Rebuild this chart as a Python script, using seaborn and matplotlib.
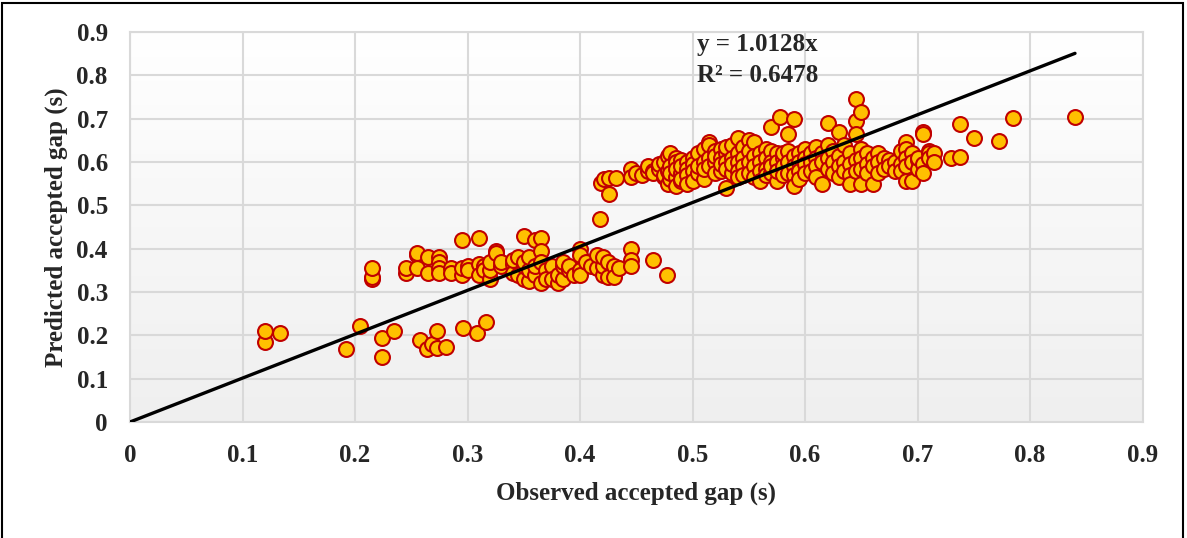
"""
Observed vs predicted accepted gap - scatter with trendline through origin
"""

import numpy as np
import pandas as pd
import matplotlib
matplotlib.use("Agg")
import matplotlib.pyplot as plt
from matplotlib.patches import Rectangle
from matplotlib.colors import LinearSegmentedColormap
import seaborn as sns

# observed gap (s) columns, and predicted gaps (s) read at each column
X_COLS = [
    0.12, 0.133, 0.192, 0.204, 0.224, 0.235, 0.258, 0.264, 0.268, 0.273, 0.281, 0.296, 0.308, 0.316,
    0.215, 0.245, 0.255, 0.265, 0.275, 0.285, 0.295, 0.30, 0.31, 0.315, 0.32, 0.325, 0.33,
    0.34, 0.345, 0.35, 0.355, 0.36, 0.365, 0.37, 0.375, 0.38, 0.385, 0.39, 0.395, 0.40,
    0.405, 0.41, 0.415, 0.42, 0.425, 0.43, 0.435, 0.445, 0.465, 0.477,
    0.418, 0.419, 0.421, 0.426, 0.432,
    0.445, 0.45, 0.455, 0.46, 0.465, 0.47, 0.475, 0.478, 0.48, 0.485, 0.49, 0.495, 0.50,
    0.505, 0.51, 0.515, 0.52, 0.525, 0.53, 0.535, 0.54, 0.545, 0.55, 0.555, 0.56, 0.565,
    0.57, 0.575, 0.578, 0.58, 0.585, 0.59, 0.595, 0.60, 0.605, 0.61, 0.615, 0.62, 0.625,
    0.63, 0.635, 0.64, 0.645, 0.65, 0.655, 0.66, 0.665, 0.67, 0.675, 0.68, 0.685, 0.69,
    0.695, 0.70, 0.705, 0.71, 0.715, 0.73, 0.738, 0.75, 0.772, 0.785, 0.84,
]
Y_BY_COL = [
    [0.185, 0.21], [0.205], [0.168], [0.222], [0.15, 0.193], [0.21], [0.19], [0.168], [0.18],
    [0.21, 0.171], [0.173], [0.217], [0.205], [0.231],
    [0.33, 0.335, 0.355], [0.345, 0.355], [0.385, 0.39, 0.355], [0.38, 0.345],
    [0.38, 0.37, 0.355, 0.345], [0.355, 0.345], [0.42, 0.34, 0.355], [0.36, 0.35],
    [0.425, 0.365, 0.34], [0.36, 0.35], [0.33, 0.35, 0.37], [0.395, 0.39], [0.36, 0.37],
    [0.365, 0.345, 0.375], [0.38, 0.34], [0.43, 0.33, 0.36, 0.37], [0.325, 0.35, 0.38],
    [0.42, 0.34, 0.36], [0.425, 0.395, 0.32, 0.37], [0.35, 0.33], [0.36, 0.33], [0.32, 0.34],
    [0.33, 0.36, 0.37], [0.35, 0.36], [0.34], [0.40, 0.385, 0.35, 0.34],
    [0.37], [0.36], [0.355, 0.385], [0.34, 0.36, 0.38], [0.37, 0.335], [0.36, 0.335], [0.355],
    [0.40, 0.375, 0.36], [0.375], [0.34],
    [0.468], [0.551], [0.56], [0.526, 0.563], [0.563],
    [0.585, 0.565], [0.575], [0.57], [0.58, 0.59], [0.58, 0.575], [0.59, 0.585, 0.595],
    [0.60, 0.565, 0.57], [0.55, 0.615, 0.58], [0.62, 0.56, 0.59, 0.575],
    [0.61, 0.60, 0.565, 0.585, 0.545], [0.605, 0.575, 0.555, 0.59, 0.56],
    [0.60, 0.585, 0.57, 0.55], [0.61, 0.595, 0.58, 0.555],
    [0.62, 0.575, 0.59], [0.63, 0.60, 0.56, 0.585], [0.645, 0.64, 0.61, 0.59],
    [0.625, 0.60, 0.575, 0.615], [0.63, 0.61, 0.58, 0.595], [0.62, 0.60, 0.54, 0.585, 0.635],
    [0.64, 0.61, 0.575, 0.595], [0.655, 0.62, 0.60, 0.58, 0.565], [0.635, 0.61, 0.59, 0.57],
    [0.65, 0.625, 0.60, 0.575], [0.645, 0.615, 0.59, 0.565], [0.62, 0.60, 0.58, 0.555],
    [0.63, 0.61, 0.585, 0.57],
    [0.68, 0.625, 0.60, 0.575, 0.59], [0.62, 0.60, 0.555, 0.58], [0.705], [0.61, 0.59, 0.57, 0.62],
    [0.665, 0.625, 0.60, 0.575], [0.70, 0.615, 0.59, 0.57, 0.545], [0.62, 0.60, 0.58, 0.56],
    [0.63, 0.61, 0.595, 0.575], [0.62, 0.60, 0.58], [0.635, 0.61, 0.59, 0.565],
    [0.62, 0.60, 0.55], [0.69, 0.64, 0.61, 0.585], [0.625, 0.60, 0.575],
    [0.67, 0.615, 0.59, 0.565], [0.64, 0.60, 0.58], [0.62, 0.595, 0.57, 0.55],
    [0.745, 0.695, 0.665, 0.605, 0.58], [0.715, 0.63, 0.61, 0.585, 0.55], [0.62, 0.595, 0.575],
    [0.61, 0.59, 0.55], [0.62, 0.60, 0.575], [0.61, 0.585], [0.605, 0.59], [0.60, 0.58],
    [0.625, 0.595, 0.58], [0.645, 0.63, 0.61, 0.59, 0.555],
    [0.62, 0.60, 0.555], [0.605, 0.585, 0.61], [0.67, 0.665, 0.595, 0.575], [0.625, 0.62, 0.61],
    [0.62, 0.60], [0.61], [0.612, 0.688], [0.655], [0.648], [0.702], [0.704],
]

SLOPE = 1.0128
R2 = 0.6478
TICKS = [0, 0.1, 0.2, 0.3, 0.4, 0.5, 0.6, 0.7, 0.8, 0.9]
TICK_LABELS = ["0", "0.1", "0.2", "0.3", "0.4", "0.5", "0.6", "0.7", "0.8", "0.9"]

obs = [x for x, ys in zip(X_COLS, Y_BY_COL) for _ in ys]
pred = [y for ys in Y_BY_COL for y in ys]
df = pd.DataFrame({"Observed": obs, "Predicted": pred})

sns.set_theme(style="white")
plt.rcParams["font.family"] = ["Liberation Serif", "DejaVu Serif"]
plt.rcParams["font.weight"] = "bold"

W, H = 1187, 538
fig = plt.figure(figsize=(W / 100, H / 100), dpi=100)
ax = fig.add_axes([130 / W, 1 - 422 / H, (1142.5 - 130) / W, 390 / H])

# plot area gradient (light grey at bottom -> white at top)
grad = np.linspace(0, 1, 256).reshape(-1, 1)
bg_cmap = LinearSegmentedColormap.from_list("bg", ["#EFEFEF", "#FFFFFF"])
ax.imshow(grad, extent=[0, 1, 0, 1], transform=ax.transAxes, cmap=bg_cmap,
          origin="lower", aspect="auto", zorder=-2)

sns.scatterplot(data=df, x="Observed", y="Predicted", s=115, color="#FFC000",
                edgecolor="#C00000", linewidth=1.5, ax=ax, zorder=3)

xs = np.array([0, max(obs)])
ax.plot(xs, SLOPE * xs, color="black", linewidth=2.4, zorder=4)

FS = 18
ax.text(0.504, 0.870, f"y = {SLOPE}x", fontsize=FS, fontweight="bold", va="center")
ax.text(0.504, 0.800, f"R² = {R2}", fontsize=FS, fontweight="bold", va="center")

ax.set_xlim(0, 0.9)
ax.set_ylim(0, 0.9)
ax.set_xticks(TICKS)
ax.set_xticklabels(TICK_LABELS)
ax.set_yticks(TICKS)
ax.set_yticklabels(TICK_LABELS)
ax.tick_params(axis="both", length=0, labelsize=FS)
ax.tick_params(axis="x", pad=16)
ax.tick_params(axis="y", pad=16)
for lab in ax.get_xticklabels() + ax.get_yticklabels():
    lab.set_fontweight("bold")

ax.grid(True, color="#D9D9D9", linewidth=1.5)
ax.set_axisbelow(True)
for sp in ax.spines.values():
    sp.set_color("#D9D9D9")
    sp.set_linewidth(1.5)

ax.set_xlabel("Observed accepted gap (s)", fontsize=FS, fontweight="bold", labelpad=10)
ax.set_ylabel("Predicted accepted gap (s)", fontsize=FS, fontweight="bold", labelpad=6)

# outer chart border
fig.add_artist(Rectangle((2 / W, -0.01), 1181 / W, 1 - 3 / H + 0.01, transform=fig.transFigure,
                         fill=False, edgecolor="black", linewidth=1.5))

fig.savefig("out.png", dpi=100)
print("Saved: out.png")
